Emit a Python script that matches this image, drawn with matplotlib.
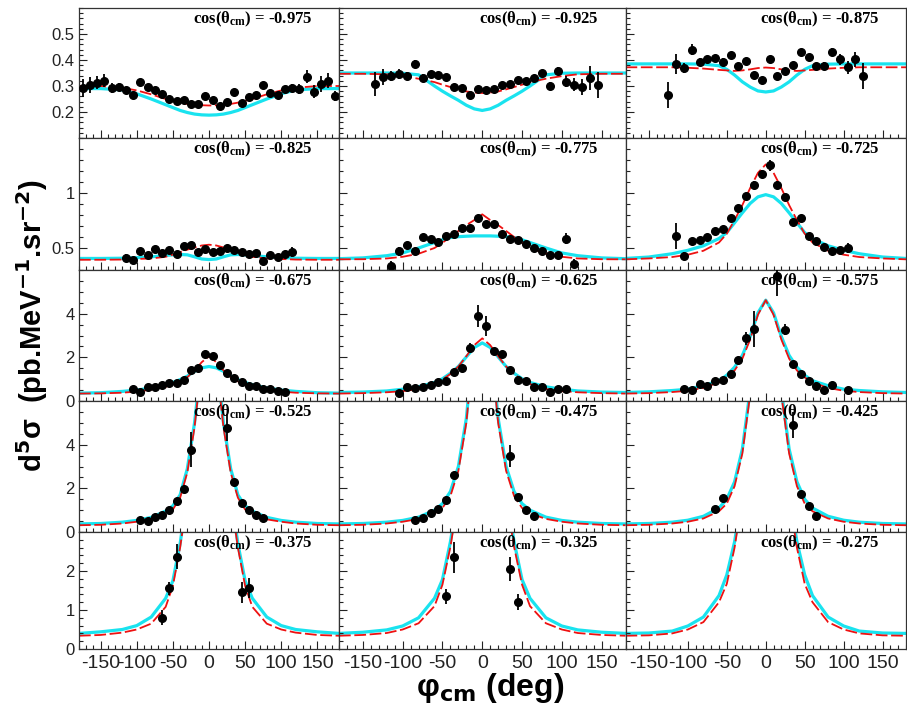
import matplotlib
matplotlib.use("Agg")
import matplotlib.pyplot as plt
from matplotlib.ticker import FixedLocator, MultipleLocator, FormatStrFormatter, NullFormatter

plt.rcParams["font.family"] = ["Liberation Sans", "DejaVu Sans"]
plt.rcParams["axes.unicode_minus"] = False
plt.rcParams["mathtext.fontset"] = "custom"
plt.rcParams["mathtext.rm"] = "Liberation Serif:bold"
plt.rcParams["mathtext.it"] = "Liberation Serif:bold"
plt.rcParams["mathtext.bf"] = "Liberation Serif:bold"

# ---- cos(theta_cm) bins, one panel each, row by row ----
COS_BINS = ["-0.975", "-0.925", "-0.875",
            "-0.825", "-0.775", "-0.725",
            "-0.675", "-0.625", "-0.575",
            "-0.525", "-0.475", "-0.425",
            "-0.375", "-0.325", "-0.275"]

# phi grid on which the two model curves are tabulated
CURVE_PHI = [-180, -150, -120, -100, -80, -60, -50, -40, -30, -20, -10, 0,
             10, 20, 30, 40, 50, 60, 80, 100, 120, 150, 180]

# ---- measured points (phi in deg, d5sigma, error) ----
PHI_975 = [-175, -165, -155, -145, -135, -125, -115, -105, -95, -85, -75, -65, -55, -45, -35, -25, -15, -5,
           5, 15, 25, 35, 45, 55, 65, 75, 85, 95, 105, 115, 125, 135, 145, 155, 165, 175]
SIG_975 = [0.292, 0.305, 0.312, 0.321, 0.292, 0.296, 0.283, 0.264, 0.315, 0.296, 0.285, 0.269, 0.251, 0.244,
           0.248, 0.232, 0.232, 0.261, 0.248, 0.223, 0.238, 0.277, 0.236, 0.257, 0.264, 0.305, 0.274, 0.264,
           0.287, 0.292, 0.289, 0.336, 0.277, 0.308, 0.321, 0.261]
ERR_975 = [0.035, 0.03, 0.025, 0.025, 0.018, 0.015, 0.012, 0.012, 0.012, 0.01, 0.01, 0.01, 0.01, 0.01, 0.01,
           0.01, 0.01, 0.01, 0.01, 0.01, 0.01, 0.01, 0.01, 0.01, 0.01, 0.012, 0.012, 0.012, 0.012, 0.015,
           0.018, 0.024, 0.025, 0.03, 0.03, 0.02]

PHI_925 = [-135, -125, -115, -105, -95, -85, -75, -65, -55, -45, -35, -25, -15, -5, 5, 15, 25, 35, 45, 55,
           65, 75, 85, 95, 105, 115, 125, 135, 145]
SIG_925 = [0.308, 0.334, 0.338, 0.347, 0.338, 0.385, 0.331, 0.347, 0.343, 0.334, 0.298, 0.292, 0.266, 0.287,
           0.283, 0.287, 0.302, 0.308, 0.324, 0.32, 0.33, 0.351, 0.3, 0.359, 0.317, 0.305, 0.296, 0.331, 0.305]
ERR_925 = [0.045, 0.03, 0.02, 0.02, 0.015, 0.015, 0.015, 0.012, 0.01, 0.01, 0.01, 0.01, 0.01, 0.01, 0.01,
           0.01, 0.01, 0.01, 0.01, 0.01, 0.012, 0.012, 0.015, 0.015, 0.02, 0.025, 0.03, 0.045, 0.05]

PHI_875 = [-125, -115, -105, -95, -85, -75, -65, -55, -45, -35, -25, -15, -5, 5, 15, 25, 35, 45, 55, 65,
           75, 85, 95, 105, 115, 125]
SIG_875 = [0.264, 0.385, 0.37, 0.44, 0.392, 0.402, 0.407, 0.394, 0.42, 0.376, 0.395, 0.343, 0.325, 0.402,
           0.34, 0.359, 0.381, 0.43, 0.411, 0.378, 0.376, 0.43, 0.402, 0.372, 0.402, 0.338]
ERR_875 = [0.05, 0.04, 0.02, 0.02, 0.015, 0.015, 0.012, 0.012, 0.01, 0.01, 0.01, 0.01, 0.01, 0.01, 0.01,
           0.01, 0.01, 0.012, 0.012, 0.012, 0.015, 0.015, 0.02, 0.025, 0.03, 0.05]

PHI_825 = [-115, -105, -95, -85, -75, -65, -55, -45, -35, -25, -15, -5, 5, 15, 25, 35, 45, 55, 65, 75,
           85, 95, 105, 115]
SIG_825 = [0.412, 0.393, 0.47, 0.433, 0.494, 0.458, 0.485, 0.448, 0.518, 0.531, 0.463, 0.494, 0.463, 0.47,
           0.503, 0.479, 0.463, 0.448, 0.458, 0.378, 0.439, 0.417, 0.448, 0.463]
ERR_825 = [0.03, 0.025, 0.015, 0.015, 0.015, 0.015, 0.015, 0.015, 0.015, 0.015, 0.015, 0.015, 0.015, 0.015,
           0.015, 0.015, 0.015, 0.015, 0.015, 0.02, 0.015, 0.015, 0.025, 0.045]

PHI_775 = [-115, -105, -95, -85, -75, -65, -55, -45, -35, -25, -15, -5, 5, 15, 25, 35, 45, 55, 65, 75,
           85, 95, 105, 115]
SIG_775 = [0.335, 0.47, 0.531, 0.47, 0.601, 0.586, 0.555, 0.61, 0.623, 0.684, 0.684, 0.776, 0.72, 0.715,
           0.623, 0.586, 0.571, 0.534, 0.503, 0.472, 0.439, 0.439, 0.586, 0.357]
ERR_775 = [0.05, 0.04, 0.02, 0.02, 0.02, 0.02, 0.02, 0.02, 0.02, 0.02, 0.02, 0.02, 0.02, 0.02, 0.02, 0.02,
           0.02, 0.02, 0.02, 0.02, 0.02, 0.02, 0.05, 0.04]

PHI_725 = [-115, -105, -95, -85, -75, -65, -55, -45, -35, -25, -15, -5, 5, 15, 25, 35, 45, 55, 65, 75,
           85, 95, 105]
SIG_725 = [0.61, 0.426, 0.561, 0.571, 0.601, 0.653, 0.672, 0.77, 0.868, 0.969, 1.076, 1.175, 1.254, 1.076,
           0.96, 0.739, 0.776, 0.61, 0.561, 0.509, 0.47, 0.479, 0.503]
ERR_725 = [0.12, 0.035, 0.025, 0.025, 0.025, 0.025, 0.025, 0.025, 0.025, 0.025, 0.03, 0.035, 0.05, 0.03,
           0.03, 0.025, 0.025, 0.025, 0.025, 0.025, 0.025, 0.025, 0.045]

PHI_675 = [-105, -95, -85, -75, -65, -55, -45, -35, -25, -15, -5, 5, 15, 25, 35, 45, 55, 65, 75, 85,
           95, 105]
SIG_675 = [0.57, 0.39, 0.65, 0.65, 0.73, 0.81, 0.82, 0.98, 1.4, 1.5, 2.14, 2.05, 1.67, 1.29, 1.05, 0.88,
           0.7, 0.7, 0.54, 0.54, 0.47, 0.43]
ERR_675 = [0.07, 0.07, 0.06, 0.06, 0.06, 0.06, 0.06, 0.07, 0.08, 0.08, 0.1, 0.1, 0.08, 0.08, 0.07, 0.06,
           0.06, 0.06, 0.06, 0.06, 0.06, 0.07]

PHI_625 = [-105, -95, -85, -75, -65, -55, -45, -35, -25, -15, -5, 5, 15, 25, 35, 45, 55, 65, 75, 85,
           95, 105]
SIG_625 = [0.36, 0.62, 0.59, 0.65, 0.74, 0.85, 0.93, 1.32, 1.52, 2.45, 3.91, 3.44, 2.29, 2.14, 1.43, 0.96,
           0.9, 0.62, 0.62, 0.43, 0.54, 0.57]
ERR_625 = [0.07, 0.07, 0.07, 0.07, 0.07, 0.07, 0.07, 0.08, 0.09, 0.2, 0.5, 0.47, 0.12, 0.1, 0.08, 0.07,
           0.07, 0.07, 0.07, 0.07, 0.07, 0.07]

PHI_575 = [-105, -95, -85, -75, -65, -55, -45, -35, -25, -15, 15, 25, 35, 45, 55, 65, 75, 85, 105]
SIG_575 = [0.54, 0.5, 0.78, 0.7, 0.9, 0.98, 1.24, 1.86, 2.87, 3.29, 5.71, 3.26, 1.71, 1.24, 0.9, 0.7,
           0.51, 0.74, 0.51]
ERR_575 = [0.07, 0.07, 0.07, 0.07, 0.07, 0.08, 0.09, 0.12, 0.3, 0.81, 0.9, 0.25, 0.12, 0.09, 0.08, 0.07,
           0.07, 0.07, 0.07]

PHI_525 = [-95, -85, -75, -65, -55, -45, -35, -25, 25, 35, 45, 55, 65, 75]
SIG_525 = [0.54, 0.5, 0.68, 0.8, 0.99, 1.42, 1.99, 3.77, 4.77, 2.27, 1.34, 1.03, 0.8, 0.65]
ERR_525 = [0.08, 0.08, 0.08, 0.08, 0.08, 0.1, 0.12, 0.81, 0.62, 0.15, 0.1, 0.08, 0.08, 0.08]

PHI_475 = [-85, -75, -65, -55, -45, -35, 35, 45, 55, 65]
SIG_475 = [0.55, 0.65, 0.85, 1.05, 1.45, 2.6, 3.5, 1.6, 1.0, 0.72]
ERR_475 = [0.08, 0.08, 0.08, 0.08, 0.12, 0.15, 0.5, 0.15, 0.1, 0.08]

PHI_425 = [-65, -55, 35, 45, 55, 65]
SIG_425 = [1.05, 1.56, 4.9, 1.75, 1.19, 0.73]
ERR_425 = [0.1, 0.12, 0.6, 0.15, 0.1, 0.08]

PHI_375 = [-65, -55, -45, 45, 55]
SIG_375 = [0.8, 1.56, 2.37, 1.45, 1.56]
ERR_375 = [0.19, 0.17, 0.32, 0.26, 0.26]

PHI_325 = [-45, -35, 35, 45]
SIG_325 = [1.35, 2.35, 2.05, 1.2]
ERR_325 = [0.2, 0.4, 0.3, 0.2]

PHI_275 = []
SIG_275 = []
ERR_275 = []

# ---- model curves on CURVE_PHI: CYAN = solid model, RED = dashed model ----
CYAN_975 = [0.29, 0.29, 0.285, 0.27, 0.25, 0.228, 0.217, 0.206, 0.198, 0.192, 0.189, 0.188,
            0.189, 0.192, 0.198, 0.206, 0.217, 0.228, 0.25, 0.27, 0.285, 0.29, 0.29]
RED_975 = [0.30, 0.30, 0.293, 0.283, 0.268, 0.25, 0.243, 0.236, 0.231, 0.228, 0.226, 0.225,
           0.226, 0.228, 0.231, 0.236, 0.243, 0.25, 0.268, 0.283, 0.293, 0.30, 0.30]

CYAN_925 = [0.35, 0.35, 0.35, 0.349, 0.343, 0.30, 0.28, 0.262, 0.245, 0.226, 0.212, 0.206,
            0.212, 0.226, 0.245, 0.262, 0.28, 0.30, 0.343, 0.349, 0.35, 0.35, 0.35]
RED_925 = [0.347, 0.347, 0.345, 0.338, 0.328, 0.315, 0.305, 0.296, 0.287, 0.279, 0.275, 0.273,
           0.275, 0.279, 0.287, 0.296, 0.305, 0.315, 0.328, 0.338, 0.345, 0.347, 0.347]

CYAN_875 = [0.385, 0.385, 0.385, 0.385, 0.384, 0.378, 0.364, 0.342, 0.316, 0.296, 0.281, 0.277,
            0.281, 0.296, 0.316, 0.342, 0.364, 0.378, 0.384, 0.385, 0.385, 0.385, 0.385]
RED_875 = [0.372, 0.372, 0.372, 0.37, 0.367, 0.362, 0.36, 0.358, 0.36, 0.364, 0.369, 0.371,
           0.369, 0.364, 0.36, 0.358, 0.36, 0.362, 0.367, 0.37, 0.372, 0.372, 0.372]

CYAN_825 = [0.405, 0.405, 0.407, 0.412, 0.42, 0.432, 0.438, 0.441, 0.438, 0.42, 0.40, 0.395,
            0.40, 0.42, 0.438, 0.441, 0.438, 0.432, 0.42, 0.412, 0.407, 0.405, 0.405]
RED_825 = [0.393, 0.393, 0.395, 0.40, 0.405, 0.42, 0.44, 0.463, 0.485, 0.505, 0.523, 0.53,
           0.523, 0.505, 0.485, 0.463, 0.44, 0.42, 0.405, 0.40, 0.395, 0.393, 0.393]

CYAN_775 = [0.403, 0.41, 0.43, 0.455, 0.50, 0.55, 0.575, 0.595, 0.603, 0.607, 0.61, 0.61,
            0.61, 0.607, 0.603, 0.595, 0.575, 0.55, 0.50, 0.455, 0.43, 0.41, 0.403]
RED_775 = [0.397, 0.398, 0.405, 0.42, 0.448, 0.50, 0.548, 0.60, 0.655, 0.708, 0.754, 0.806,
           0.754, 0.708, 0.655, 0.60, 0.548, 0.50, 0.448, 0.42, 0.405, 0.398, 0.397]

CYAN_725 = [0.405, 0.418, 0.448, 0.479, 0.52, 0.586, 0.64, 0.73, 0.82, 0.905, 0.965, 0.985,
            0.965, 0.905, 0.82, 0.73, 0.64, 0.586, 0.52, 0.479, 0.448, 0.418, 0.405]
RED_725 = [0.397, 0.405, 0.418, 0.439, 0.475, 0.55, 0.63, 0.754, 0.89, 1.045, 1.183, 1.26,
           1.183, 1.045, 0.89, 0.754, 0.63, 0.55, 0.475, 0.439, 0.418, 0.405, 0.397]

CYAN_675 = [0.36, 0.38, 0.44, 0.50, 0.60, 0.75, 0.85, 0.98, 1.14, 1.36, 1.52, 1.58,
            1.52, 1.36, 1.14, 0.98, 0.85, 0.75, 0.60, 0.50, 0.44, 0.38, 0.36]
RED_675 = [0.34, 0.35, 0.38, 0.43, 0.52, 0.65, 0.76, 0.90, 1.09, 1.40, 1.78, 2.05,
           1.78, 1.40, 1.09, 0.90, 0.76, 0.65, 0.52, 0.43, 0.38, 0.35, 0.34]

CYAN_625 = [0.39, 0.41, 0.46, 0.54, 0.65, 0.85, 1.02, 1.27, 1.58, 2.02, 2.45, 2.66,
            2.45, 2.02, 1.58, 1.27, 1.02, 0.85, 0.65, 0.54, 0.46, 0.41, 0.39]
RED_625 = [0.34, 0.36, 0.40, 0.45, 0.55, 0.78, 0.98, 1.24, 1.58, 2.05, 2.56, 2.87,
           2.56, 2.05, 1.58, 1.24, 0.98, 0.78, 0.55, 0.45, 0.40, 0.36, 0.34]

CYAN_575 = [0.39, 0.42, 0.48, 0.54, 0.70, 0.93, 1.18, 1.55, 2.09, 2.95, 4.04, 4.62,
            4.04, 2.95, 2.09, 1.55, 1.18, 0.93, 0.70, 0.54, 0.48, 0.42, 0.39]
RED_575 = [0.34, 0.36, 0.41, 0.47, 0.60, 0.85, 1.08, 1.40, 1.94, 2.82, 3.95, 4.62,
           3.95, 2.82, 1.94, 1.40, 1.08, 0.85, 0.60, 0.47, 0.41, 0.36, 0.34]

CYAN_525 = [0.37, 0.39, 0.45, 0.53, 0.67, 0.96, 1.20, 1.70, 2.90, 5.00, 8.00, 9.50,
            8.00, 5.00, 2.90, 1.70, 1.20, 0.96, 0.67, 0.53, 0.45, 0.39, 0.37]
RED_525 = [0.31, 0.33, 0.39, 0.47, 0.58, 0.80, 1.03, 1.57, 2.73, 4.81, 7.80, 9.30,
           7.80, 4.81, 2.73, 1.57, 1.03, 0.80, 0.58, 0.47, 0.39, 0.33, 0.31]

CYAN_475 = [0.37, 0.39, 0.45, 0.53, 0.68, 1.00, 1.30, 1.85, 3.00, 5.20, 9.00, 11.0,
            9.00, 5.20, 3.00, 1.85, 1.30, 1.00, 0.68, 0.53, 0.45, 0.39, 0.37]
RED_475 = [0.31, 0.33, 0.39, 0.47, 0.60, 0.85, 1.10, 1.65, 2.80, 5.00, 8.80, 10.8,
           8.80, 5.00, 2.80, 1.65, 1.10, 0.85, 0.60, 0.47, 0.39, 0.33, 0.31]

CYAN_425 = [0.37, 0.39, 0.45, 0.54, 0.72, 1.10, 1.50, 2.30, 3.80, 6.50, 9.00, 10.0,
            9.00, 6.50, 3.80, 2.30, 1.50, 1.10, 0.72, 0.54, 0.45, 0.39, 0.37]
RED_425 = [0.31, 0.33, 0.39, 0.47, 0.62, 0.95, 1.30, 2.10, 3.60, 6.30, 8.80, 9.80,
           8.80, 6.30, 3.60, 2.10, 1.30, 0.95, 0.62, 0.47, 0.39, 0.33, 0.31]

CYAN_375 = [0.40, 0.44, 0.50, 0.60, 0.82, 1.30, 1.75, 2.70, 4.00, 5.50, 7.00, 7.50,
            7.00, 5.50, 4.00, 2.70, 1.75, 1.30, 0.82, 0.60, 0.50, 0.44, 0.40]
RED_375 = [0.34, 0.36, 0.42, 0.50, 0.65, 1.08, 1.62, 2.60, 3.90, 5.40, 6.90, 7.40,
           6.90, 5.40, 3.90, 2.60, 1.62, 1.08, 0.65, 0.50, 0.42, 0.36, 0.34]

CYAN_325 = [0.40, 0.43, 0.49, 0.59, 0.80, 1.30, 1.78, 2.75, 4.00, 5.50, 7.00, 7.50,
            7.00, 5.50, 4.00, 2.75, 1.78, 1.30, 0.80, 0.59, 0.49, 0.43, 0.40]
RED_325 = [0.34, 0.36, 0.41, 0.50, 0.66, 1.10, 1.65, 2.62, 3.90, 5.40, 6.90, 7.40,
           6.90, 5.40, 3.90, 2.62, 1.65, 1.10, 0.66, 0.50, 0.41, 0.36, 0.34]

CYAN_275 = [0.40, 0.41, 0.46, 0.59, 0.82, 1.37, 1.90, 2.75, 4.00, 5.50, 7.00, 7.50,
            7.00, 5.50, 4.00, 2.75, 1.90, 1.37, 0.82, 0.59, 0.46, 0.41, 0.40]
RED_275 = [0.34, 0.35, 0.40, 0.50, 0.69, 1.20, 1.67, 2.60, 3.90, 5.40, 6.90, 7.40,
           6.90, 5.40, 3.90, 2.60, 1.67, 1.20, 0.69, 0.50, 0.40, 0.35, 0.34]

PANEL_POINTS = [(PHI_975, SIG_975, ERR_975), (PHI_925, SIG_925, ERR_925), (PHI_875, SIG_875, ERR_875),
                (PHI_825, SIG_825, ERR_825), (PHI_775, SIG_775, ERR_775), (PHI_725, SIG_725, ERR_725),
                (PHI_675, SIG_675, ERR_675), (PHI_625, SIG_625, ERR_625), (PHI_575, SIG_575, ERR_575),
                (PHI_525, SIG_525, ERR_525), (PHI_475, SIG_475, ERR_475), (PHI_425, SIG_425, ERR_425),
                (PHI_375, SIG_375, ERR_375), (PHI_325, SIG_325, ERR_325), (PHI_275, SIG_275, ERR_275)]
PANEL_CURVES = [(CYAN_975, RED_975), (CYAN_925, RED_925), (CYAN_875, RED_875),
                (CYAN_825, RED_825), (CYAN_775, RED_775), (CYAN_725, RED_725),
                (CYAN_675, RED_675), (CYAN_625, RED_625), (CYAN_575, RED_575),
                (CYAN_525, RED_525), (CYAN_475, RED_475), (CYAN_425, RED_425),
                (CYAN_375, RED_375), (CYAN_325, RED_325), (CYAN_275, RED_275)]

# y axis per row
ROW_YLIM = [(0.1, 0.6), (0.3, 1.5), (0, 6), (0, 6), (0, 3)]
ROW_YTICKS = [[0.2, 0.3, 0.4, 0.5], [0.5, 1.0], [0, 2, 4], [0, 2, 4], [0, 1, 2]]
ROW_YMINOR = [0.02, 0.1, 0.5, 0.5, 0.2]
X_TICKS = [-150, -100, -50, 0, 50, 100, 150]

# pad edges in pixels (907 x 714 canvas)
W, H = 907, 714
COL_EDGES = [79, 339, 625.5, 906]
ROW_EDGES = [8, 138, 270, 401, 532, 649]

fig = plt.figure(figsize=(W / 100, H / 100), dpi=100)

for k, label in enumerate(COS_BINS):
    r, c = divmod(k, 3)
    x0, x1 = COL_EDGES[c], COL_EDGES[c + 1]
    y0, y1 = ROW_EDGES[r], ROW_EDGES[r + 1]
    ax = fig.add_axes([x0 / W, 1 - y1 / H, (x1 - x0) / W, (y1 - y0) / H])

    cyan, red = PANEL_CURVES[k]
    ax.plot(CURVE_PHI, cyan, color="#19e3ef", lw=2.3, zorder=1)
    ax.plot(CURVE_PHI, red, color="#ee1111", lw=1.3, dashes=(6.5, 2), zorder=2)

    phi, sig, err = PANEL_POINTS[k]
    if phi:
        ax.errorbar(phi, sig, yerr=err, fmt="o", color="black", ms=5.5, elinewidth=1.3,
                    capsize=0, zorder=3)

    ax.set_xlim(-180, 180)
    ax.set_ylim(*ROW_YLIM[r])
    ax.xaxis.set_major_locator(FixedLocator(X_TICKS))
    ax.xaxis.set_minor_locator(MultipleLocator(10))
    ax.yaxis.set_major_locator(FixedLocator(ROW_YTICKS[r]))
    ax.yaxis.set_minor_locator(MultipleLocator(ROW_YMINOR[r]))
    ax.tick_params(which="both", direction="in", top=False, right=False, width=0.8,
                   colors="#222222", labelsize=12, pad=3)
    ax.tick_params(which="major", length=6)
    ax.tick_params(which="minor", length=3)
    ax.tick_params(axis="x", labelsize=14, pad=4)

    if c == 0:
        ax.yaxis.set_major_formatter(FormatStrFormatter("%g"))
    else:
        ax.yaxis.set_major_formatter(NullFormatter())
    if r < 4:
        ax.xaxis.set_major_formatter(NullFormatter())
    else:
        ax.xaxis.set_major_formatter(FormatStrFormatter("%g"))

    for sp in ax.spines.values():
        sp.set_linewidth(0.9)
        sp.set_color("#333333")

    ax.text(1 - 27 / (x1 - x0), 1 - 2 / (y1 - y0), "cos(θ$_{\\rm cm}$) = " + label,
            transform=ax.transAxes, ha="right", va="top", fontsize=12,
            family="Liberation Serif", weight="bold", math_fontfamily="custom", zorder=5)

fig.text(32 / W, 1 - 326 / H, r"d$^{\mathbf{5}}$σ  (pb.MeV$^{\mathbf{-1}}$.sr$^{\mathbf{-2}}$)",
         rotation=90, ha="center", va="center", fontsize=21, weight="bold",
         math_fontfamily="dejavusans")
fig.text(490 / W, 1 - 688 / H, r"φ$_{\mathbf{cm}}$ (deg)", ha="center", va="center",
         fontsize=23, weight="bold", math_fontfamily="dejavusans")

fig.savefig("out.png", dpi=100)
